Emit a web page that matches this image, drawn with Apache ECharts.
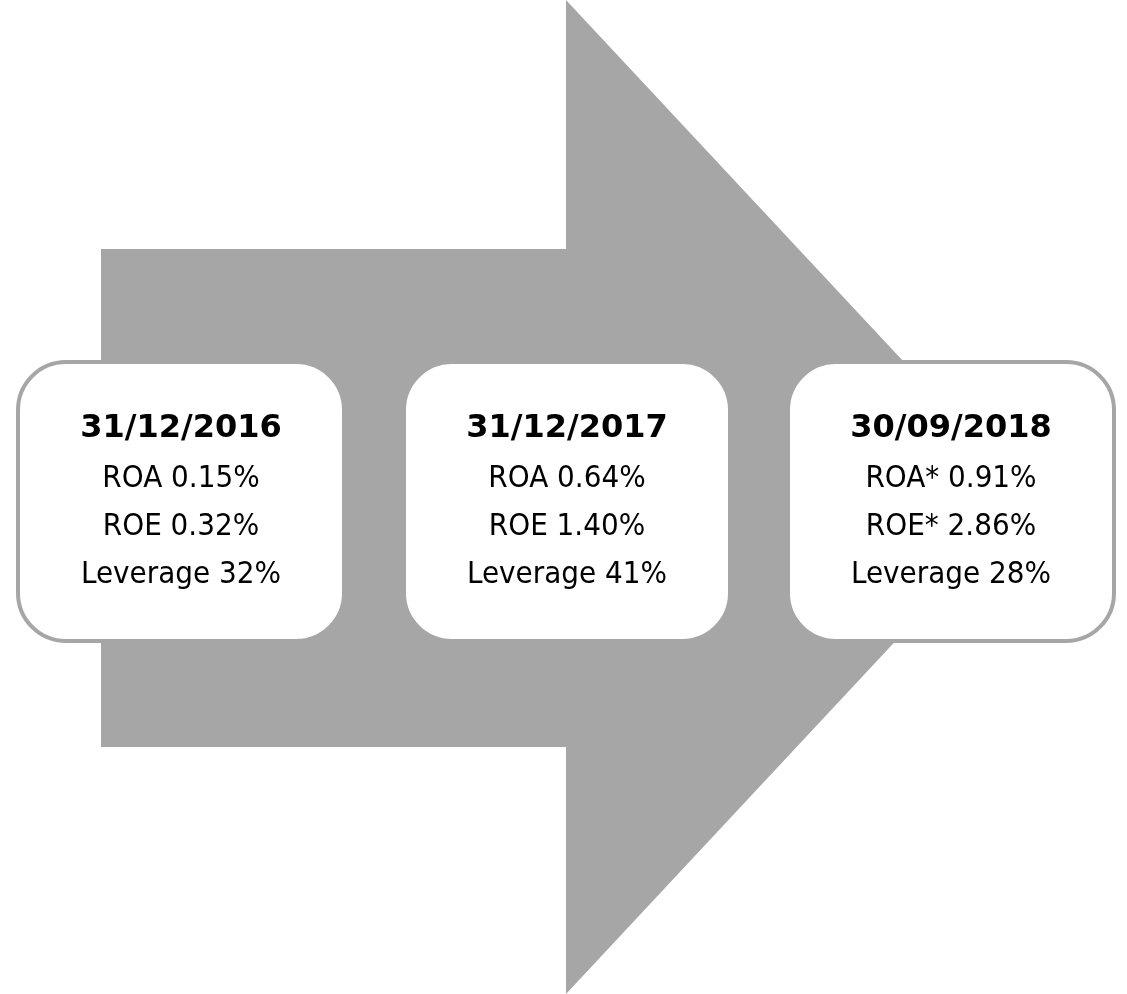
<!DOCTYPE html>
<html>
<head>
<meta charset="utf-8">
<title>ROA / ROE / Leverage</title>
<script src="https://cdn.jsdelivr.net/npm/echarts@6/dist/echarts.min.js"></script>
<style>
    html, body { margin: 0; padding: 0; background: #fff; }
    #main { width: 1127px; height: 994px; }
</style>
</head>
<body>
<div id="main"></div>
<script>
    // 数据
    const dates = ['31/12/2016', '31/12/2017', '30/09/2018'];
    const roaNames = ['ROA', 'ROA', 'ROA*'];
    const roaValues = [0.15, 0.64, 0.91];
    const roeNames = ['ROE', 'ROE', 'ROE*'];
    const roeValues = [0.32, 1.40, 2.86];
    const leverageValues = [32, 41, 28];

    const chart = echarts.init(document.getElementById('main'));

    const grey = '#A6A6A6';
    const boxX = [18, 404, 788];
    const boxW = 326;
    const boxY = 362;
    const boxH = 279;

    // 箭头
    const arrow = {
        type: 'polygon',
        shape: {
            points: [
                [101, 249], [566, 249], [566, 0], [1030, 497],
                [566, 994], [566, 747], [101, 747]
            ]
        },
        style: { fill: grey }
    };

    let elements = [arrow];

    dates.forEach((d, i) => {
        // 圆角方框
        elements.push({
            type: 'rect',
            shape: { x: boxX[i], y: boxY, width: boxW, height: boxH, r: 48 },
            style: { fill: '#fff', stroke: grey, lineWidth: 4 }
        });
        const cx = boxX[i] + boxW / 2;
        const lines = [
            roaNames[i] + ' ' + roaValues[i].toFixed(2) + '%',
            roeNames[i] + ' ' + roeValues[i].toFixed(2) + '%',
            'Leverage ' + leverageValues[i] + '%'
        ];
        elements.push({
            type: 'text',
            x: cx, y: 429,
            style: {
                text: d, fill: '#000', align: 'center', verticalAlign: 'middle',
                fontSize: 32, fontWeight: 'bold', fontFamily: 'DejaVu Sans'
            }
        });
        lines.forEach((t, j) => {
            elements.push({
                type: 'text',
                x: cx, y: 479 + j * 48,
                style: {
                    text: t, fill: '#000', align: 'center', verticalAlign: 'middle',
                    fontSize: 31, fontFamily: 'DejaVu Sans Condensed'
                }
            });
        });
    });

    chart.setOption({
        animation: false,
        graphic: { elements: elements }
    });
</script>
</body>
</html>
